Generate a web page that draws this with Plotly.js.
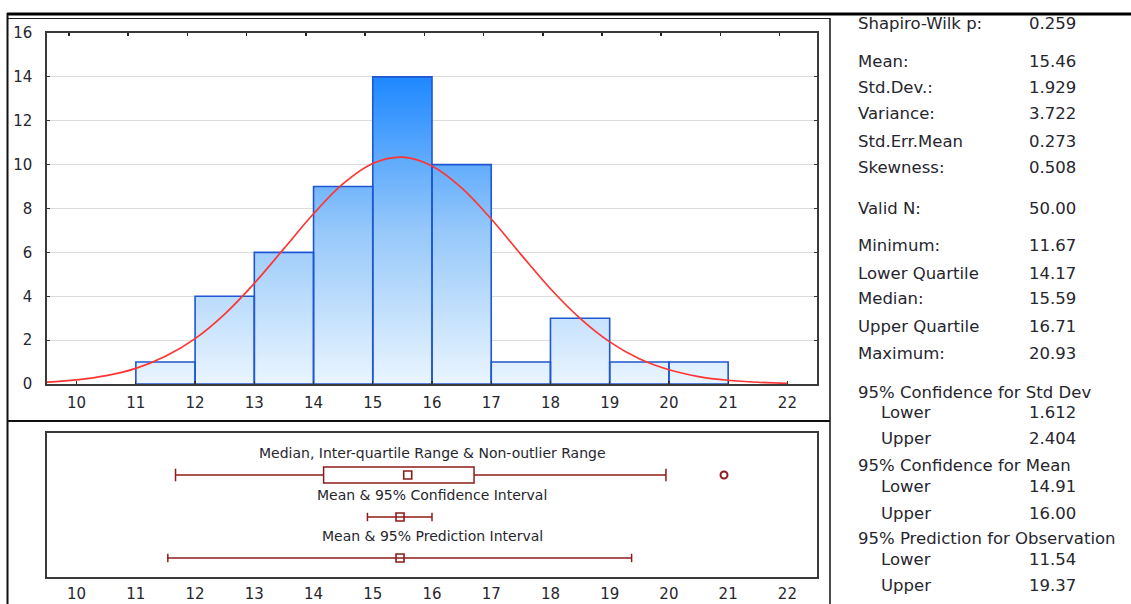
<!DOCTYPE html>
<html>
<head>
<meta charset="utf-8">
<script src="https://cdn.plot.ly/plotly-3.0.1.min.js"></script>
<style>
  html, body { margin: 0; padding: 0; background: #ffffff; }
  #chart { width: 1131px; height: 604px; }
</style>
</head>
<body>
<div id="chart"></div>
<script>
// ---------------- data ----------------
const binEdges = [11, 12, 13, 14, 15, 16, 17, 18, 19, 20, 21];
const binCounts = [1, 4, 6, 9, 14, 10, 1, 3, 1, 1];

// fitted normal curve
const curveX = [9.5, 10, 10.5, 11, 11.5, 12, 12.5, 13, 13.5, 14, 14.5, 15, 15.5, 16, 16.5, 17, 17.5, 18, 18.5, 19, 19.5, 20, 20.5, 21, 21.5, 22];
const curveY = [0.09, 0.19, 0.38, 0.71, 1.26, 2.07, 3.19, 4.59, 6.17, 7.76, 9.13, 10.05, 10.34, 9.94, 8.94, 7.52, 5.91, 4.34, 2.99, 1.92, 1.15, 0.65, 0.34, 0.17, 0.08, 0.03];

// box / interval panel values
const boxStats = { min: 11.67, q1: 14.17, median: 15.59, q3: 16.71, whiskerHigh: 19.95 };
const outliers = [20.93];
const meanValue = 15.46;
const meanCI = [14.91, 16.00];
const predInterval = [11.54, 19.37];
const panelLabels = ["Median, Inter-quartile Range & Non-outlier Range",
                     "Mean & 95% Confidence Interval",
                     "Mean & 95% Prediction Interval"];

const xTickVals = [10, 11, 12, 13, 14, 15, 16, 17, 18, 19, 20, 21, 22];

// statistics table on the right
const statLabels = ["Shapiro-Wilk p:", "Mean:", "Std.Dev.:", "Variance:", "Std.Err.Mean", "Skewness:",
                    "Valid N:", "Minimum:", "Lower Quartile", "Median:", "Upper Quartile", "Maximum:",
                    "95% Confidence for Std Dev", "Lower", "Upper",
                    "95% Confidence for Mean", "Lower", "Upper",
                    "95% Prediction for Observation", "Lower", "Upper"];
const statValues = ["0.259", "15.46", "1.929", "3.722", "0.273", "0.508",
                    "50.00", "11.67", "14.17", "15.59", "16.71", "20.93",
                    "", "1.612", "2.404",
                    "", "14.91", "16.00",
                    "", "11.54", "19.37"];

// ---------------- layout constants (pixels) ----------------
const W = 1131, H = 604;
const px = v => v / W;
const py = v => 1 - v / H;
const statRowY = [24, 62, 88, 114, 141, 167, 208, 246, 273, 299, 326, 353, 392, 412, 438, 465, 486, 513, 538, 559, 585];
const statIndent = [0,0,0,0,0,0,0,0,0,0,0,0,0,1,1,0,1,1,0,1,1];

const textColor = '#26262e';
const boxRed = '#8e1b1b';
const fontFam = 'DejaVu Sans, Liberation Sans, Arial, sans-serif';

// ---------------- histogram polygon built from bins ----------------
const histX = [], histY = [];
for (let i = 0; i < binCounts.length; i++) {
  const a = binEdges[i], b = binEdges[i + 1], c = binCounts[i];
  histX.push(a, a, b, b, a, null);
  histY.push(0, c, c, 0, 0, null);
}
const maxCount = Math.max(...binCounts);

// rows in bottom panel (y2 in pixels from the top of the box)
const labelRows = [20, 62, 103];
const markRows = [42, 84, 125];

const capMarker = size => ({ symbol: 'line-ns-open', size: size, color: boxRed, line: { color: boxRed, width: 1.5 } });
const sqMarker = { symbol: 'square-open', size: 8, color: boxRed, line: { color: boxRed, width: 1.6 } };
const base2 = { xaxis: 'x2', yaxis: 'y2', hoverinfo: 'skip', showlegend: false };

const traces = [
  {
    type: 'scatter', mode: 'lines', x: histX, y: histY,
    xaxis: 'x', yaxis: 'y',
    fill: 'toself',
    fillgradient: { type: 'vertical', start: 0, stop: maxCount,
      colorscale: [[0, 'rgb(234,245,255)'], [0.5, 'rgb(150,200,250)'], [1, 'rgb(30,136,255)']] },
    line: { color: '#1f56d4', width: 1.6 },
    hoverinfo: 'skip', showlegend: false
  },
  {
    type: 'scatter', mode: 'lines', x: curveX, y: curveY,
    xaxis: 'x', yaxis: 'y',
    line: { color: '#ff3535', width: 1.7, shape: 'spline' },
    hoverinfo: 'skip', showlegend: false
  },
  // dummy trace so the top tick overlay axis is drawn
  {
    type: 'scatter', mode: 'none', x: [curveX[0]], y: [0],
    xaxis: 'x3', yaxis: 'y', hoverinfo: 'skip', showlegend: false
  },
  // row 1: whiskers
  Object.assign({
    type: 'scatter', mode: 'lines',
    x: [boxStats.min, boxStats.q1, null, boxStats.q3, boxStats.whiskerHigh],
    y: [markRows[0], markRows[0], null, markRows[0], markRows[0]],
    line: { color: boxRed, width: 1.5 }
  }, base2),
  Object.assign({
    type: 'scatter', mode: 'markers',
    x: [boxStats.min, boxStats.whiskerHigh], y: [markRows[0], markRows[0]],
    marker: capMarker(9)
  }, base2),
  Object.assign({
    type: 'scatter', mode: 'markers',
    x: [boxStats.median], y: [markRows[0]], marker: sqMarker
  }, base2),
  Object.assign({
    type: 'scatter', mode: 'markers',
    x: outliers, y: outliers.map(() => markRows[0]),
    marker: { symbol: 'circle-open', size: 7, color: boxRed, line: { color: boxRed, width: 2 } }
  }, base2),
  // row 2: mean & CI
  Object.assign({
    type: 'scatter', mode: 'lines', x: meanCI, y: [markRows[1], markRows[1]],
    line: { color: boxRed, width: 1.5 }
  }, base2),
  Object.assign({
    type: 'scatter', mode: 'markers', x: meanCI, y: [markRows[1], markRows[1]],
    marker: capMarker(6)
  }, base2),
  Object.assign({
    type: 'scatter', mode: 'markers', x: [meanValue], y: [markRows[1]], marker: sqMarker
  }, base2),
  // row 3: mean & prediction interval
  Object.assign({
    type: 'scatter', mode: 'lines', x: predInterval, y: [markRows[2], markRows[2]],
    line: { color: boxRed, width: 1.5 }
  }, base2),
  Object.assign({
    type: 'scatter', mode: 'markers', x: predInterval, y: [markRows[2], markRows[2]],
    marker: capMarker(6)
  }, base2),
  Object.assign({
    type: 'scatter', mode: 'markers', x: [meanValue], y: [markRows[2]], marker: sqMarker
  }, base2)
];

const xDomain = [px(47), px(817)];
const xRange = [9.5, 22.5];

const annotations = [];
panelLabels.forEach((t, i) => {
  annotations.push({
    text: t, xref: 'x2 domain', yref: 'y2', x: 0.5, y: labelRows[i],
    xanchor: 'center', yanchor: 'middle', showarrow: false,
    font: { family: fontFam, size: 14, color: textColor }
  });
});
statLabels.forEach((t, i) => {
  annotations.push({
    text: t, xref: 'paper', yref: 'paper',
    x: px(statIndent[i] ? 879 : 856), y: py(statRowY[i]),
    xanchor: 'left', yanchor: 'middle', showarrow: false,
    font: { family: fontFam, size: 16.5, color: textColor }
  });
  if (statValues[i]) {
    annotations.push({
      text: statValues[i], xref: 'paper', yref: 'paper',
      x: px(1027), y: py(statRowY[i]),
      xanchor: 'left', yanchor: 'middle', showarrow: false,
      font: { family: fontFam, size: 16.5, color: textColor }
    });
  }
});

const frame = { color: '#111111', width: 2 };
const shapes = [
  // box of the box-plot row
  { type: 'rect', xref: 'x2', yref: 'y2', x0: boxStats.q1, x1: boxStats.q3,
    y0: markRows[0] - 8, y1: markRows[0] + 8,
    line: { color: boxRed, width: 1.5 }, fillcolor: 'rgba(255,255,255,0)', layer: 'below' },
  // outer frame
  { type: 'line', xref: 'paper', yref: 'paper', x0: px(7), x1: 1, y0: py(14), y1: py(14), line: { color: '#000', width: 3 } },
  { type: 'line', xref: 'paper', yref: 'paper', x0: px(7), x1: px(830), y0: py(18.5), y1: py(18.5), line: { color: '#222', width: 1.2 } },
  { type: 'line', xref: 'paper', yref: 'paper', x0: px(7.5), x1: px(7.5), y0: py(13), y1: 0, line: frame },
  { type: 'line', xref: 'paper', yref: 'paper', x0: px(830), x1: px(830), y0: py(18), y1: 0, line: { color: '#111', width: 1.5 } },
  { type: 'line', xref: 'paper', yref: 'paper', x0: px(7), x1: px(830), y0: py(421), y1: py(421), line: frame }
];

const layout = {
  width: W, height: H,
  margin: { l: 0, r: 0, t: 0, b: 0, pad: 0 },
  paper_bgcolor: '#ffffff', plot_bgcolor: '#ffffff',
  font: { family: fontFam, color: textColor },
  showlegend: false,
  xaxis: {
    domain: xDomain, range: xRange, anchor: 'y',
    tickmode: 'array', tickvals: xTickVals, ticktext: xTickVals.map(String),
    ticks: 'inside', ticklen: 3, tickcolor: '#333', tickwidth: 1.2,
    showline: true, linecolor: '#3a3a3a', linewidth: 1.6, mirror: true,
    showgrid: false, zeroline: false,
    tickfont: { family: fontFam, size: 15, color: textColor },
    ticklabelstandoff: 4
  },
  xaxis3: {
    overlaying: 'x', side: 'top', anchor: 'y', range: xRange,
    tick0: 9.87, dtick: 1, ticks: 'inside', ticklen: 3, tickcolor: '#222', tickwidth: 1.5,
    showticklabels: false, showline: false, showgrid: false, zeroline: false
  },
  yaxis: {
    domain: [py(384), py(33)], range: [0, 16], anchor: 'x',
    tickmode: 'linear', tick0: 0, dtick: 2,
    ticks: 'inside', ticklen: 3, tickcolor: '#333', tickwidth: 1.2,
    showline: true, linecolor: '#3a3a3a', linewidth: 1.6, mirror: 'ticks',
    showgrid: true, gridcolor: '#dcdcdc', gridwidth: 1, zeroline: false,
    tickfont: { family: fontFam, size: 15, color: textColor },
    ticklabelstandoff: 10
  },
  xaxis2: {
    domain: xDomain, range: xRange, anchor: 'y2',
    tickmode: 'array', tickvals: xTickVals, ticktext: xTickVals.map(String),
    ticks: '', showline: true, linecolor: '#3a3a3a', linewidth: 1.6, mirror: true,
    showgrid: false, zeroline: false,
    tickfont: { family: fontFam, size: 15, color: textColor },
    ticklabelstandoff: 2
  },
  yaxis2: {
    domain: [py(577), py(433)], range: [144, 0], anchor: 'x2',
    showticklabels: false, ticks: '', showgrid: false, zeroline: false,
    showline: true, linecolor: '#3a3a3a', linewidth: 1.6, mirror: true
  },
  annotations: annotations,
  shapes: shapes
};

Plotly.newPlot('chart', traces, layout, { staticPlot: true, displayModeBar: false });
</script>
</body>
</html>
